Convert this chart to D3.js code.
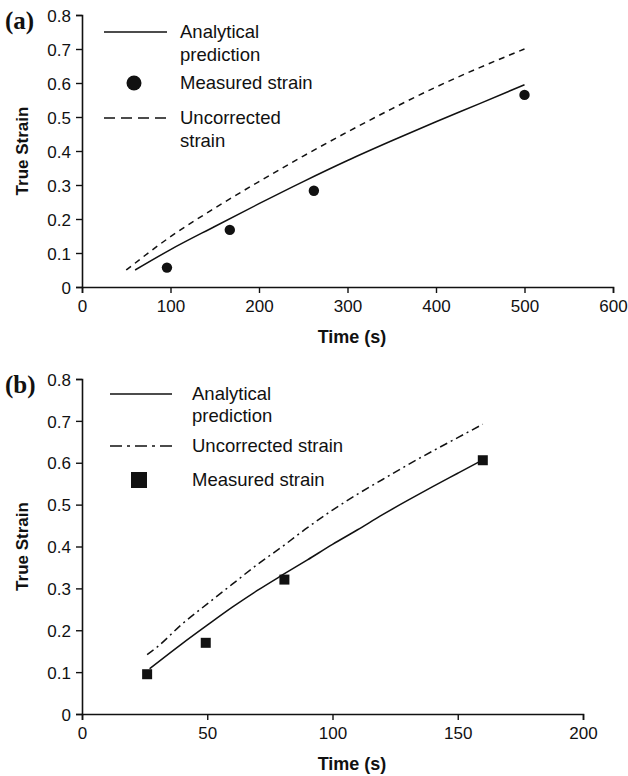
<!DOCTYPE html>
<html><head><meta charset="utf-8">
<script src="https://cdn.jsdelivr.net/npm/d3@7"></script>
<style>body{margin:0;background:#fff}svg{display:block}text{fill:#111}</style>
</head><body><svg id="c" width="628" height="776"></svg>
<script>
// Panel (a)
const aTime = [60,100,150,200,250,300,350,400,450,500];
const aAnalytical = [0.05,0.11,0.178,0.245,0.31,0.372,0.43,0.486,0.54,0.595];
const aUncTime = [50,100,150,200,250,300,350,400,450,500];
const aUncorrected = [0.05,0.148,0.232,0.31,0.385,0.456,0.524,0.588,0.646,0.70];
const aMeasTime = [96,167,262,500];
const aMeasured = [0.057,0.168,0.283,0.565];
const aXTicks = [0,100,200,300,400,500,600];
// Panel (b)
const bTime = [27,40,50,60,70,80,90,100,110,120,130,140,150,160];
const bAnalytical = [0.108,0.168,0.212,0.255,0.295,0.332,0.368,0.405,0.44,0.476,0.51,0.543,0.575,0.607];
const bUncTime = [26,30,40,50,60,70,80,90,100,110,120,130,140,150,160];
const bUncorrected = [0.142,0.16,0.215,0.263,0.31,0.357,0.40,0.445,0.487,0.525,0.56,0.595,0.628,0.66,0.692];
const bMeasTime = [26,49.4,80.8,160];
const bMeasured = [0.095,0.17,0.321,0.606];
const bXTicks = [0,50,100,150,200];
const yTicks = [0,0.1,0.2,0.3,0.4,0.5,0.6,0.7,0.8];

const svg = d3.select("#c");
const ink = "#111";
const sans = "'Liberation Sans', Arial, Helvetica, sans-serif";
const serif = "'Liberation Serif', 'Times New Roman', serif";

function txt(g,x,y,s,size,bold){
  return g.append("text").attr("x",x).attr("y",y).style("font-family",sans).style("font-size",size+"px")
    .style("font-weight",bold?"bold":"normal").text(s);
}

function panel(cfg){
  const g = svg.append("g");
  const x = d3.scaleLinear().domain([0,cfg.xmax]).range([82,cfg.xr]);
  const y = d3.scaleLinear().domain([0,0.8]).range([cfg.y0,cfg.y8]);
  const xa = g.append("g").attr("transform",`translate(0,${cfg.y0})`)
    .call(d3.axisBottom(x).tickValues(cfg.xticks).tickSize(6).tickPadding(4).tickFormat(d3.format("d")));
  const ya = g.append("g").attr("transform","translate(82,0)")
    .call(d3.axisLeft(y).tickValues(yTicks).tickSize(6).tickPadding(5).tickFormat(d=>d===0?"0":d3.format(".1f")(d)));
  [xa,ya].forEach(a=>{
    a.select(".domain").attr("stroke",ink).attr("stroke-width",1.6);
    a.selectAll(".tick line").attr("stroke",ink).attr("stroke-width",1.4);
    a.selectAll("text").style("font-size","17px").attr("fill",ink).style("font-family",sans);
  });
  xa.selectAll("text").attr("dy","0.9em");
  ya.selectAll("text").attr("dy","0.36em");
  const line = d3.line().x(d=>x(d[0])).y(d=>y(d[1])).curve(d3.curveMonotoneX);
  g.append("path").datum(cfg.t.map((t,i)=>[t,cfg.an[i]])).attr("d",line)
    .attr("fill","none").attr("stroke",ink).attr("stroke-width",1.5);
  g.append("path").datum(cfg.ut.map((t,i)=>[t,cfg.unc[i]])).attr("d",line)
    .attr("fill","none").attr("stroke",ink).attr("stroke-width",1.5).attr("stroke-dasharray",cfg.dash);
  if(cfg.marker==="circle"){
    g.selectAll("circle.m").data(cfg.mt.map((t,i)=>[t,cfg.m[i]])).join("circle")
      .attr("cx",d=>x(d[0])).attr("cy",d=>y(d[1])).attr("r",5.2).attr("fill",ink);
  } else {
    g.selectAll("rect.m").data(cfg.mt.map((t,i)=>[t,cfg.m[i]])).join("rect")
      .attr("x",d=>x(d[0])-5).attr("y",d=>y(d[1])-5).attr("width",10).attr("height",10).attr("fill",ink);
  }
  txt(g,0,0,"True Strain",17,true).attr("x",null).attr("y",null)
    .attr("transform",`translate(28,${(cfg.y0+cfg.y8)/2}) rotate(-90)`).attr("text-anchor","middle");
  txt(g,352,cfg.y0+56,"Time (s)",18,true).attr("text-anchor","middle");
  g.append("text").attr("x",5).attr("y",cfg.y8+14).style("font-family",serif)
    .style("font-size","25px").style("font-weight","bold").text(cfg.label);
  return g;
}

const ga = panel({xmax:600,xr:613,y0:287,y8:15,xticks:aXTicks,t:aTime,an:aAnalytical,ut:aUncTime,unc:aUncorrected,
  mt:aMeasTime,m:aMeasured,marker:"circle",dash:"6,5",label:"(a)"});
// legend a
ga.append("line").attr("x1",104).attr("x2",167).attr("y1",32).attr("y2",32).attr("stroke",ink).attr("stroke-width",1.5);
txt(ga,180,38,"Analytical",18.5);
txt(ga,180,61,"prediction",18.5);
ga.append("circle").attr("cx",134).attr("cy",83).attr("r",7.5).attr("fill",ink);
txt(ga,180,89,"Measured strain",18.5);
ga.append("line").attr("x1",104).attr("x2",167).attr("y1",118).attr("y2",118).attr("stroke",ink).attr("stroke-width",1.5).attr("stroke-dasharray","11,6");
txt(ga,180,124,"Uncorrected",18.5);
txt(ga,180,147,"strain",18.5);

const gb = panel({xmax:200,xr:583,y0:714,y8:379,xticks:bXTicks,t:bTime,an:bAnalytical,ut:bUncTime,unc:bUncorrected,
  mt:bMeasTime,m:bMeasured,marker:"square",dash:"8,4,2,4",label:"(b)"});
// legend b
gb.append("line").attr("x1",110).attr("x2",172).attr("y1",394).attr("y2",394).attr("stroke",ink).attr("stroke-width",1.5);
txt(gb,192,400,"Analytical",18.5);
txt(gb,192,422,"prediction",18.5);
gb.append("line").attr("x1",110).attr("x2",172).attr("y1",446).attr("y2",446).attr("stroke",ink).attr("stroke-width",1.5).attr("stroke-dasharray","12,5,3,5");
txt(gb,192,452,"Uncorrected strain",18.5);
gb.append("rect").attr("x",131).attr("y",472).attr("width",16).attr("height",16).attr("fill",ink);
txt(gb,192,486,"Measured strain",18.5);
</script></body></html>
